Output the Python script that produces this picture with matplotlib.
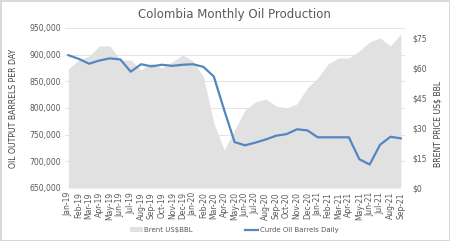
import numpy as np
import matplotlib
matplotlib.use("Agg")
import matplotlib.pyplot as plt
from matplotlib.ticker import FuncFormatter

months = ["Jan-19", "Feb-19", "Mar-19", "Apr-19", "May-19", "Jun-19", "Jul-19", "Aug-19",
          "Sep-19", "Oct-19", "Nov-19", "Dec-19", "Jan-20", "Feb-20", "Mar-20", "Apr-20",
          "May-20", "Jun-20", "Jul-20", "Aug-20", "Sep-20", "Oct-20", "Nov-20", "Dec-20",
          "Jan-21", "Feb-21", "Mar-21", "Apr-21", "May-21", "Jun-21", "Jul-21", "Aug-21",
          "Sep-21"]

# barrels per day
production = [899000, 892000, 883000, 889000, 893000, 891000, 868000, 882000,
              878000, 881000, 879000, 881000, 882000, 877000, 859000, 796000,
              736000, 730000, 735000, 741000, 748000, 751000, 760000, 758000,
              745000, 745000, 745000, 745000, 704000, 694000, 731000, 746000,
              743000]

# Brent US$/bbl
brent = [59.5, 64, 66, 71, 71, 64, 64, 59, 62.5, 60, 63, 66.5, 63.5, 55.5, 32.5, 19,
         29, 39, 43, 44.5, 41, 40, 42, 50, 55, 62, 65, 65, 68.5, 73, 75, 71, 77]

x = np.arange(len(months))
text_col = "#595959"

fig = plt.figure(figsize=(4.5, 2.41), dpi=100, edgecolor="#d9d9d9", linewidth=1)
ax = fig.add_axes([0.145, 0.22, 0.755, 0.664])

# left axis: grid + ticks
ax.set_ylim(650000, 950000)
ax.set_yticks(np.arange(650000, 950001, 50000))
ax.yaxis.set_major_formatter(FuncFormatter(lambda v, p: f"{int(v):,}"))
ax.grid(axis="y", color="#e4e4e4", linewidth=0.7)
ax.set_axisbelow(True)
ax.set_xlim(-0.3, 32.4)
ax.set_xticks(x)
ax.set_xticklabels(months, rotation=90)
ax.tick_params(axis="both", length=0, labelsize=5.5, labelcolor=text_col, pad=3)
for s in ax.spines.values():
    s.set_visible(False)
ax.set_ylabel("OIL OUTPUT BARRELS PER DAY", fontsize=5.6, color="#404040")
ax.yaxis.set_label_coords(-0.14, 0.5)

# right axis: brent area
ax2 = ax.twinx()
ax2.set_ylim(0, 80)
ax2.set_yticks(np.arange(0, 76, 15))
ax2.yaxis.set_major_formatter(FuncFormatter(lambda v, p: f"${int(v)}"))
area = ax2.fill_between(x, brent, color="#e1e1e1", linewidth=0, label="Brent US$BBL")
ax2.tick_params(axis="y", length=0, labelsize=5.5, labelcolor=text_col, pad=5)
for s in ax2.spines.values():
    s.set_visible(False)
ax2.set_ylabel("BRENT PRICE US$ BBL", fontsize=5.6, color="#404040")
ax2.yaxis.set_label_coords(1.085, 0.4)

# production line on top of area, same scale as left axis
ax3 = ax.twinx()
ax3.set_ylim(ax.get_ylim())
line, = ax3.plot(x, production, color="#5586c0", linewidth=1.6,
                 label="Curde Oil Barrels Daily")
ax3.set_yticks([])
for s in ax3.spines.values():
    s.set_visible(False)

fig.suptitle("Colombia Monthly Oil Production", x=0.52, y=0.965, fontsize=8.5,
             color=text_col)
fig.legend([area, line], ["Brent US$BBL", "Curde Oil Barrels Daily"],
           loc="center", bbox_to_anchor=(0.52, 0.045), ncol=2, frameon=False,
           fontsize=5, labelcolor=text_col, handlelength=1.9, columnspacing=7.5,
           handletextpad=0.2)

fig.savefig("out.png", dpi=100)
